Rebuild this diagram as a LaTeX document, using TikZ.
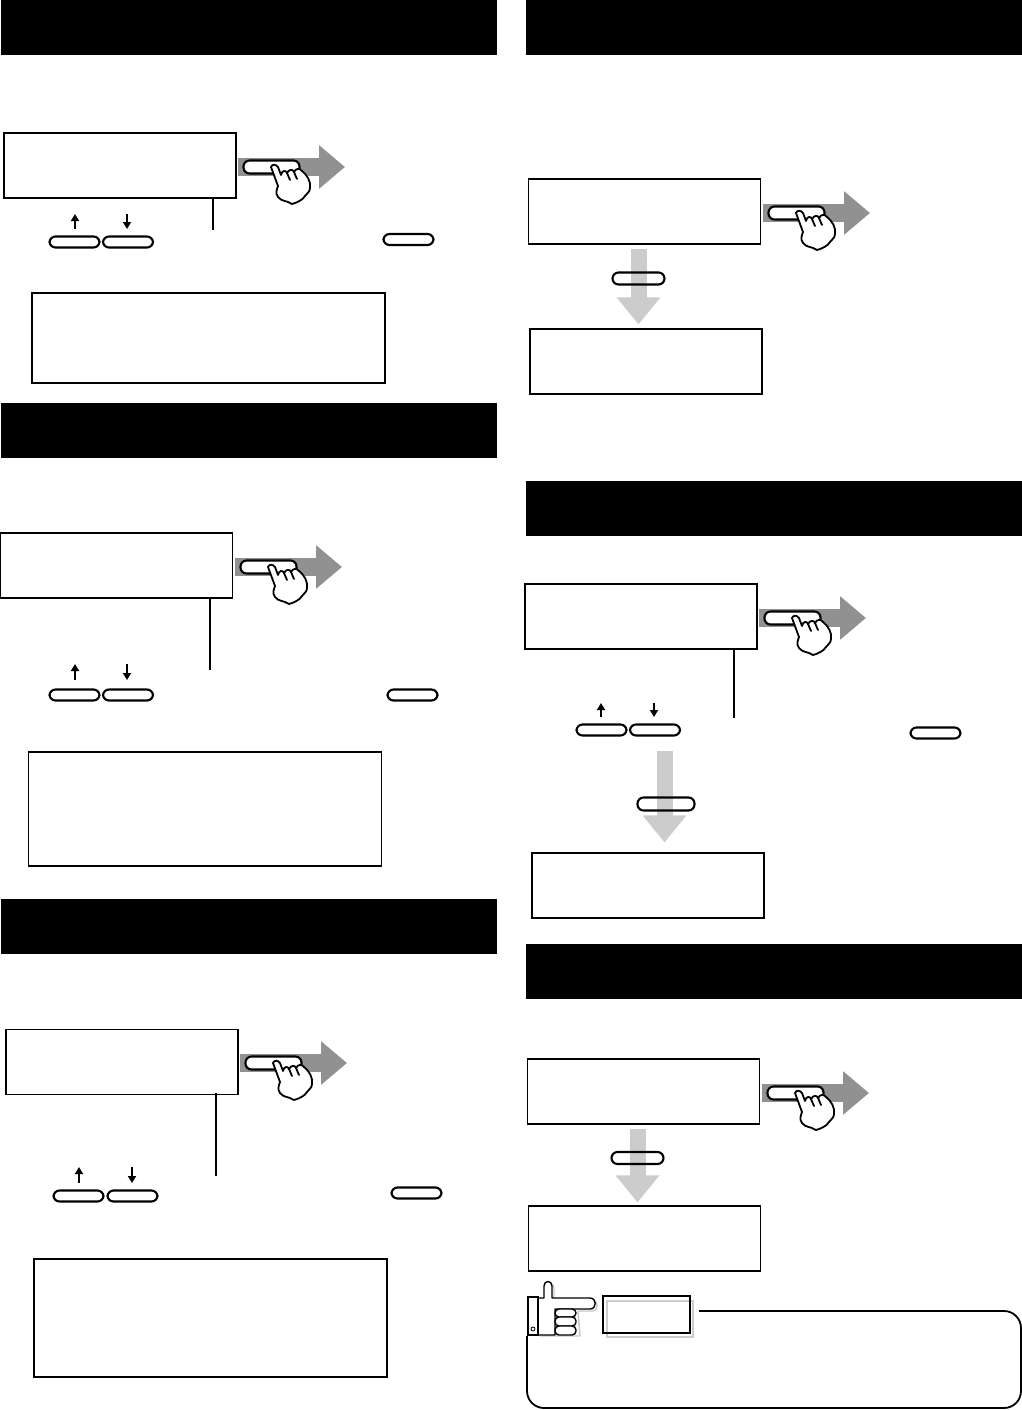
\documentclass[tikz,border=0pt]{standalone}
\usetikzlibrary{arrows.meta,backgrounds,calc}

\begin{document}
\begin{tikzpicture}[
  x=1pt, y=-1pt,
  banner/.style={fill=black, minimum width=496pt, minimum height=55pt, inner sep=0pt},
  lcd/.style={draw, line width=1.1pt, minimum width=232pt, minimum height=65pt, inner sep=0pt},
  panel/.style={draw, line width=1.1pt, minimum width=353pt, inner sep=0pt},
  key/.style={draw, line width=2.1pt, rounded corners=6pt, minimum width=50pt, minimum height=11pt, inner sep=0pt},
  presskey/.style={key, fill=white, minimum width=56pt, minimum height=13pt},
  flowkey/.style={key, minimum width=52pt, minimum height=12pt},
  upkey/.style={-{Triangle[length=7pt,width=8pt]}, line width=1.8pt},
  leader/.style={line width=1.5pt},
  pressarrow/.style={-{Triangle[length=26pt,width=42pt]}, line width=18pt, color=black!43},
  flowarrow/.style={-{Triangle[length=27pt,width=42pt]}, line width=16pt, color=black!20},
  handline/.style={draw, line width=1.8pt, line join=round, line cap=round},
  presshand/.pic={
    \draw[pressarrow] (0,0) -- (107,0);
    \node[presskey] (-key) at (33.5,0) {};
    \path[handline, fill=white] (33,0) .. controls (34,-3) and (38,-3) .. (40,0)
      -- (43,8) .. controls (44,3) and (48,3) .. (49,6)
      .. controls (51,2) and (55,2) .. (56,5)
      .. controls (58,1) and (62,1) .. (64,4)
      .. controls (69,8) and (73,14) .. (72,21)
      .. controls (72,25) and (69,26) .. (67,29)
      .. controls (65,33) and (58,36) .. (54,37)
      .. controls (48,33) and (44,35) .. (40,30)
      .. controls (37,26) and (39,22) .. (40,19) -- (33,0) -- cycle;
    \draw[handline] (49,6) -- (52,13);
    \draw[handline] (56,5) -- (59,12);
  }
]
\useasboundingbox (0,0) rectangle (1022,1410);

% headers
\node[banner] (heada) at (249,27.5) {};
\node[banner] (headb) at (249,430.5) {};
\node[banner] (headc) at (249,926.5) {};
\node[banner] (headd) at (774,27.5) {};
\node[banner] (heade) at (774,508.5) {};
\node[banner] (headf) at (774,971.5) {};

% left column
\node[lcd] (lcda) at (120,165.5) {};
\pic (pressa) at (238,167) {presshand};
\node[key] (upa) at (74.5,242) {};
\node[key] (downa) at (128,242) {};
\node[key] (nexta) at (408.5,239.5) {};
\node[panel, minimum height=90pt] (panela) at (208.5,338) {};
\coordinate (leada) at (213,230);
\coordinate (arrupa) at (75,229);
\coordinate (arrdowna) at (127,229);

\node[lcd] (lcdb) at (116.5,565.5) {};
\pic (pressb) at (235,567) {presshand};
\node[key] (upb) at (74.5,695) {};
\node[key] (downb) at (128,695) {};
\node[key] (nextb) at (412.5,695) {};
\node[panel, minimum height=114pt] (panelb) at (205,809) {};
\coordinate (leadb) at (210,670);
\coordinate (arrupb) at (75,680);
\coordinate (arrdownb) at (127,680);

\node[lcd] (lcdc) at (122,1062) {};
\pic (pressc) at (240,1063) {presshand};
\node[key] (upc) at (78.5,1196) {};
\node[key] (downc) at (132.5,1196) {};
\node[key] (nextc) at (416.5,1193) {};
\node[panel, minimum height=118pt] (panelc) at (210.5,1318) {};
\coordinate (leadc) at (216,1176);
\coordinate (arrupc) at (79,1183);
\coordinate (arrdownc) at (132,1183);

% right column
\node[lcd] (lcdd) at (644.5,211.5) {};
\pic (pressd) at (763,213) {presshand};
\node[flowkey] (keyd) at (638.5,278.5) {};
\node[lcd] (lcde) at (646,361.5) {};

\node[lcd] (lcdf) at (641,616.5) {};
\pic (pressf) at (759,618) {presshand};
\node[key] (upf) at (601.5,730) {};
\node[key] (downf) at (655,730) {};
\node[key] (nextf) at (935.5,733) {};
\node[flowkey, minimum width=57pt, minimum height=13pt] (keyf) at (666,804) {};
\node[lcd] (lcdg) at (648,885.5) {};
\coordinate (leadf) at (734,718);
\coordinate (arrupf) at (601,717);
\coordinate (arrdownf) at (654,717);
\coordinate (flowf) at (664.5,751);

\node[lcd] (lcdh) at (643.5,1091.5) {};
\pic (pressh) at (762,1093) {presshand};
\node[flowkey] (keyh) at (637.5,1158) {};
\node[lcd] (lcdi) at (644.5,1238.5) {};

\draw[leader] (lcda.south -| leada) ++(0,-2) -- (leada);
\draw[leader] (lcdb.south -| leadb) ++(0,-2) -- (leadb);
\draw[leader] (lcdc.south -| leadc) ++(0,-2) -- (leadc);
\draw[leader] (lcdf.south -| leadf) ++(0,-2) -- (leadf);

\draw[upkey] (arrupa) -- +(0,-15);
\draw[upkey] (arrdowna) ++(0,-15) -- (arrdowna);
\draw[upkey] (arrupb) -- +(0,-16);
\draw[upkey] (arrdownb) ++(0,-16) -- (arrdownb);
\draw[upkey] (arrupc) -- +(0,-16);
\draw[upkey] (arrdownc) ++(0,-16) -- (arrdownc);
\draw[upkey] (arrupf) -- +(0,-14);
\draw[upkey] (arrdownf) ++(0,-14) -- (arrdownf);

\begin{scope}[on background layer]
  \draw[flowarrow, shorten <=4pt, shorten >=4pt] (keyd.center |- lcdd.south) -- (keyd.center |- lcde.north);
  \draw[flowarrow, shorten >=10pt] (flowf) -- (flowf |- lcdg.north);
  \draw[flowarrow, shorten <=4pt, shorten >=3pt] (keyh.center |- lcdh.south) -- (keyh.center |- lcdi.north);
\end{scope}

% note
\node[draw=black!20, line width=1.4pt, minimum width=86pt, minimum height=36pt, inner sep=0pt] (noteshadow) at (650,1319) {};
\node[draw, line width=2.2pt, minimum width=87pt, minimum height=37pt, inner sep=0pt] (notetag) at (646.5,1314.5) {};
\coordinate (noteline) at (699,1311);
\coordinate (noteend) at (527,1336);
\draw[line width=1.8pt, rounded corners=17pt] (noteline) -- (1021,1311) -- (1021,1408) -- (527,1408) -- (noteend);

\begin{scope}[shift={(2,2)}, draw=black!22, line width=1.4pt, line join=round]
  \draw (546,1298) -- (546,1286) .. controls (546,1281) and (552,1281) .. (552,1286) -- (552,1298) -- (590,1298)
    .. controls (597,1298) and (597,1309) .. (590,1309) -- (576,1309);
  \draw (538,1298) -- (546,1298) (576,1309) -- (578,1334) -- (538,1334);
\end{scope}
\draw[line width=1.4pt, line join=round, fill=white] (538,1335) -- (538,1298) -- (544,1298) -- (544,1286) .. controls (544,1280) and (552,1280) .. (552,1286)
  -- (552,1298) -- (590,1298) .. controls (597,1298) and (597,1309) .. (590,1309) -- (562,1309) -- (555,1309) -- (555,1335) -- cycle;
\draw[line width=1.4pt, fill=white, rounded corners=4pt] (555,1309) rectangle (576,1317);
\draw[line width=1.4pt, fill=white, rounded corners=4pt] (555,1317) rectangle (576,1326);
\draw[line width=1.4pt, fill=white, rounded corners=4pt] (555,1326) rectangle (576,1335);
\draw[line width=1.4pt] (528,1297) rectangle (538,1335);
\draw[line width=0.8pt] (533,1329) circle (2pt);
\end{tikzpicture}
\end{document}
